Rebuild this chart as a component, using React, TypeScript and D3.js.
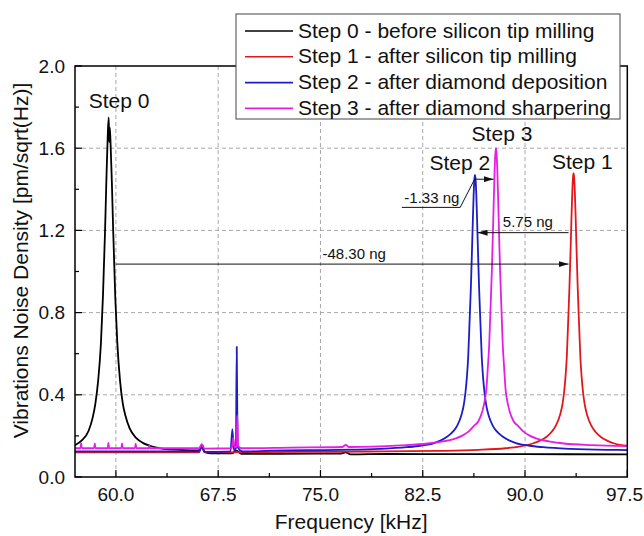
import React from 'react';
import * as d3 from 'd3';

type Pt = [number, number];

// Axis ticks
const xTicks = [60, 67.5, 75, 82.5, 90, 97.5];
const xMinorTicks = [63.75, 71.25, 78.75, 86.25, 93.75];
const yTicks = [0, 0.4, 0.8, 1.2, 1.6, 2.0];
const yMinorTicks = [0.2, 0.6, 1.0, 1.4, 1.8];
const xGrid = [60, 67.5, 75, 82.5, 90];
const yGrid = [0.4, 0.8, 1.2, 1.6];

// Spectra: [frequency kHz, noise density pm/sqrt(Hz)]
const step0: Pt[] = [
  [57.0, 0.155], [57.5, 0.178], [58.0, 0.225], [58.3, 0.29], [58.5, 0.36], [58.7, 0.47],
  [58.9, 0.65], [59.05, 0.88], [59.2, 1.19], [59.3, 1.44], [59.4, 1.66], [59.47, 1.75],
  [59.51, 1.63], [59.55, 1.7], [59.6, 1.64], [59.7, 1.44], [59.8, 1.2], [59.95, 0.88],
  [60.1, 0.655], [60.3, 0.47], [60.5, 0.36], [60.7, 0.298], [61.0, 0.238], [61.5, 0.189],
  [62.0, 0.165], [62.5, 0.152], [63.0, 0.143], [63.5, 0.137], [64.0, 0.134], [65.0, 0.131],
  [66.1, 0.13], [66.3, 0.158], [66.5, 0.122], [67.0, 0.115], [68.5, 0.115], [68.85, 0.128],
  [69.2, 0.113], [72.0, 0.113], [76.5, 0.114], [76.85, 0.12], [77.2, 0.11], [80.0, 0.112],
  [85.0, 0.111], [90.0, 0.111], [97.5, 0.11],
];

const step1: Pt[] = [
  [57.0, 0.12], [66.1, 0.12], [66.3, 0.152], [66.5, 0.12], [73.56, 0.122], [78.56, 0.124],
  [83.56, 0.127], [86.56, 0.132], [88.56, 0.14], [89.56, 0.148], [90.56, 0.163], [91.06, 0.176],
  [91.56, 0.195], [91.96, 0.22], [92.26, 0.25], [92.56, 0.3], [92.76, 0.36], [92.86, 0.41],
  [92.96, 0.48], [93.06, 0.58], [93.16, 0.75], [93.26, 0.928], [93.36, 1.151], [93.41, 1.269],
  [93.46, 1.375], [93.51, 1.451], [93.56, 1.478], [93.61, 1.451], [93.66, 1.375], [93.71, 1.269],
  [93.76, 1.151], [93.86, 0.928], [93.96, 0.75], [94.06, 0.58], [94.16, 0.48], [94.26, 0.41],
  [94.36, 0.36], [94.56, 0.3], [94.86, 0.25], [95.16, 0.22], [95.56, 0.195], [96.06, 0.176],
  [96.56, 0.163], [97.5, 0.152],
];

const step2: Pt[] = [
  [57.0, 0.125], [62.0, 0.125], [66.1, 0.125], [66.3, 0.145], [66.5, 0.122], [68.4, 0.125],
  [68.54, 0.233], [68.65, 0.13], [68.8, 0.14], [68.86, 0.634], [68.92, 0.15], [69.1, 0.13],
  [69.3, 0.124], [71.33, 0.128], [76.33, 0.132], [79.33, 0.137], [81.33, 0.145], [82.33, 0.152],
  [83.33, 0.165], [83.83, 0.178], [84.33, 0.198], [84.73, 0.222], [85.03, 0.25], [85.33, 0.3],
  [85.53, 0.36], [85.63, 0.41], [85.73, 0.48], [85.83, 0.58], [85.93, 0.75], [86.03, 0.925],
  [86.13, 1.146], [86.18, 1.263], [86.23, 1.368], [86.28, 1.443], [86.33, 1.47], [86.38, 1.443],
  [86.43, 1.368], [86.48, 1.263], [86.53, 1.146], [86.63, 0.925], [86.73, 0.75], [86.83, 0.58],
  [86.93, 0.48], [87.03, 0.41], [87.13, 0.36], [87.33, 0.3], [87.63, 0.25], [87.93, 0.222],
  [88.33, 0.198], [88.83, 0.178], [89.33, 0.165], [90.33, 0.152], [91.33, 0.145], [93.33, 0.137],
  [96.33, 0.132], [97.5, 0.131],
];

const step3: Pt[] = [
  [57.0, 0.14], [57.4, 0.14], [57.45, 0.165], [57.5, 0.14], [58.4, 0.14], [58.45, 0.163],
  [58.5, 0.14], [59.4, 0.14], [59.45, 0.166], [59.5, 0.14], [60.4, 0.14], [60.45, 0.163],
  [60.5, 0.14], [61.4, 0.14], [61.45, 0.162], [61.5, 0.14], [62.4, 0.14], [62.45, 0.155],
  [62.5, 0.14], [66.1, 0.14], [66.3, 0.16], [66.5, 0.138], [68.5, 0.14], [68.6, 0.19],
  [68.7, 0.145], [68.85, 0.15], [68.9, 0.3], [68.96, 0.15], [69.2, 0.14], [72.87, 0.143],
  [76.6, 0.146], [76.85, 0.156], [77.1, 0.146], [80.87, 0.154], [82.87, 0.163], [83.87, 0.172],
  [84.87, 0.187], [85.37, 0.2], [85.87, 0.222], [86.27, 0.25], [86.57, 0.27], [86.87, 0.32],
  [87.07, 0.38], [87.17, 0.43], [87.27, 0.53], [87.37, 0.64], [87.47, 0.819], [87.57, 1.008],
  [87.67, 1.248], [87.72, 1.375], [87.77, 1.489], [87.82, 1.57], [87.87, 1.6], [87.92, 1.57],
  [87.97, 1.489], [88.02, 1.375], [88.07, 1.248], [88.17, 1.008], [88.27, 0.819], [88.37, 0.64],
  [88.47, 0.53], [88.57, 0.43], [88.67, 0.38], [88.87, 0.32], [89.17, 0.27], [89.47, 0.25],
  [89.87, 0.222], [90.37, 0.2], [90.87, 0.187], [91.87, 0.172], [92.87, 0.163], [94.87, 0.155],
  [97.5, 0.15],
];

const seriesNames = [
  'Step 0 - before silicon tip milling',
  'Step 1 - after silicon tip milling',
  'Step 2 - after diamond deposition',
  'Step 3 - after diamond sharpering',
];
const seriesColors = ['#000000', '#e3161c', '#1c1cc8', '#e41ee4'];
const seriesData = [step0, step1, step2, step3];

// Peak labels: [text, frequency, value]
const peakLabels: [string, number, number][] = [
  ['Step 0', 60.23, 1.796],
  ['Step 3', 88.31, 1.637],
  ['Step 2', 85.22, 1.494],
  ['Step 1', 94.2, 1.499],
];

// Mass-shift arrows: from [f, v] to [f, v]
const arrowMain: [Pt, Pt] = [[60.0, 1.036], [93.19, 1.036]];
const arrowMid: [Pt, Pt] = [[93.19, 1.189], [86.52, 1.189]];
const arrowSmall: [Pt, Pt] = [[86.3, 1.449], [87.69, 1.449]];
const leaderSmall: Pt[] = [[86.3, 1.449], [85.25, 1.312], [80.97, 1.312]];
const shiftLabels: [string, number, number][] = [
  ['-48.30 ng', 77.47, 1.061],
  ['5.75 ng', 90.21, 1.215],
  ['-1.33 ng', 83.17, 1.332],
];

const W = 644;
const H = 536;
const left = 75;
const right = 627.3;
const top = 66;
const bottom = 477;
const FONT = '"Liberation Sans", Arial, Helvetica, sans-serif';

export default function App() {
  const x = d3.scaleLinear().domain([57, 97.5]).range([left, right]);
  const y = d3.scaleLinear().domain([0, 2]).range([bottom, top]);
  const line = d3
    .line<Pt>()
    .x((d) => x(d[0]))
    .y((d) => y(d[1]))
    .curve(d3.curveMonotoneX);
  const straight = d3
    .line<Pt>()
    .x((d) => x(d[0]))
    .y((d) => y(d[1]));

  const legendX = 236;
  const legendY = 14;
  const legendW = 384;
  const legendH = 105;
  const rowH = 25.8;

  return (
    <svg
      width={W}
      height={H}
      style={{ position: 'absolute', left: 0, top: 0, background: '#fff' }}
      fontFamily={FONT}
    >
      <defs>
        <clipPath id="plotClip">
          <rect x={left} y={top} width={right - left} height={bottom - top} />
        </clipPath>
        <marker
          id="arrowHead"
          viewBox="0 0 10 6"
          refX={10}
          refY={3}
          markerWidth={10}
          markerHeight={6}
          markerUnits="userSpaceOnUse"
          orient="auto"
        >
          <path d="M0,0 L10,3 L0,6 Z" fill="#111" />
        </marker>
      </defs>
      <rect x={0} y={0} width={W} height={H} fill="#fff" />

      {/* grid */}
      <g stroke="#a8a8a8" strokeWidth={1} strokeDasharray="4 3">
        {xGrid.map((t) => (
          <line key={'gx' + t} x1={x(t)} x2={x(t)} y1={top} y2={bottom} />
        ))}
        {yGrid.map((t) => (
          <line key={'gy' + t} x1={left} x2={right} y1={y(t)} y2={y(t)} />
        ))}
      </g>

      {/* spectra */}
      <g clipPath="url(#plotClip)" fill="none" strokeLinejoin="round">
        {seriesData.map((d, i) => (
          <path key={i} d={line(d) || ''} stroke={seriesColors[i]} strokeWidth={1.8} />
        ))}
      </g>

      {/* annotations */}
      <g stroke="#111" strokeWidth={1} fill="none">
        <path d={straight(arrowMain) || ''} markerEnd="url(#arrowHead)" />
        <path d={straight(arrowMid) || ''} markerEnd="url(#arrowHead)" />
        <path d={straight(arrowSmall) || ''} markerEnd="url(#arrowHead)" />
        <path d={straight(leaderSmall) || ''} />
      </g>
      <g fill="#111" fontSize={15} textAnchor="middle">
        {shiftLabels.map(([t, f, v]) => (
          <text key={t} x={x(f)} y={y(v)}>
            {t}
          </text>
        ))}
      </g>
      <g fill="#111" fontSize={21} textAnchor="middle">
        {peakLabels.map(([t, f, v]) => (
          <text key={t} x={x(f)} y={y(v)}>
            {t}
          </text>
        ))}
      </g>

      {/* ticks */}
      <g stroke="#000" strokeWidth={1.2}>
        {xTicks.map((t) => (
          <line key={'xt' + t} x1={x(t)} x2={x(t)} y1={bottom} y2={bottom - 7} />
        ))}
        {xMinorTicks.map((t) => (
          <line key={'xm' + t} x1={x(t)} x2={x(t)} y1={bottom} y2={bottom - 4} />
        ))}
        {yTicks.map((t) => (
          <line key={'yt' + t} x1={left} x2={left + 7} y1={y(t)} y2={y(t)} />
        ))}
        {yMinorTicks.map((t) => (
          <line key={'ym' + t} x1={left} x2={left + 4} y1={y(t)} y2={y(t)} />
        ))}
      </g>

      {/* frame */}
      <rect
        x={left}
        y={top}
        width={right - left}
        height={bottom - top}
        fill="none"
        stroke="#000"
        strokeWidth={1.5}
      />

      {/* tick labels; the last one is kept inside the canvas edge */}
      <g fill="#111" fontSize={19}>
        {xTicks.map((t, i) => {
          const last = i === xTicks.length - 1;
          return (
            <text
              key={'xl' + t}
              x={last ? W - 1 : x(t)}
              y={bottom + 24}
              textAnchor={last ? 'end' : 'middle'}
            >
              {t.toFixed(1)}
            </text>
          );
        })}
      </g>
      <g fill="#111" fontSize={19} textAnchor="end">
        {yTicks.map((t) => (
          <text key={'yl' + t} x={left - 10} y={y(t)} dy="0.35em">
            {t.toFixed(1)}
          </text>
        ))}
      </g>

      {/* axis titles */}
      <text x={(left + right) / 2} y={529} fontSize={21} textAnchor="middle" fill="#111">
        Frequency [kHz]
      </text>
      <text
        transform={`translate(28, ${(top + bottom) / 2 - 11}) rotate(-90)`}
        fontSize={21}
        textAnchor="middle"
        fill="#111"
      >
        Vibrations Noise Density [pm/sqrt(Hz)]
      </text>

      {/* legend */}
      <rect
        x={legendX}
        y={legendY}
        width={legendW}
        height={legendH}
        fill="#fff"
        stroke="#444"
        strokeWidth={1}
      />
      {seriesNames.map((name, i) => {
        const base = legendY + 23.5 + i * rowH;
        return (
          <g key={name}>
            <line
              x1={legendX + 9}
              x2={legendX + 57}
              y1={base - 6.5}
              y2={base - 6.5}
              stroke={seriesColors[i]}
              strokeWidth={1.6}
            />
            <text x={legendX + 62} y={base} fontSize={21} fill="#111">
              {name}
            </text>
          </g>
        );
      })}
    </svg>
  );
}
